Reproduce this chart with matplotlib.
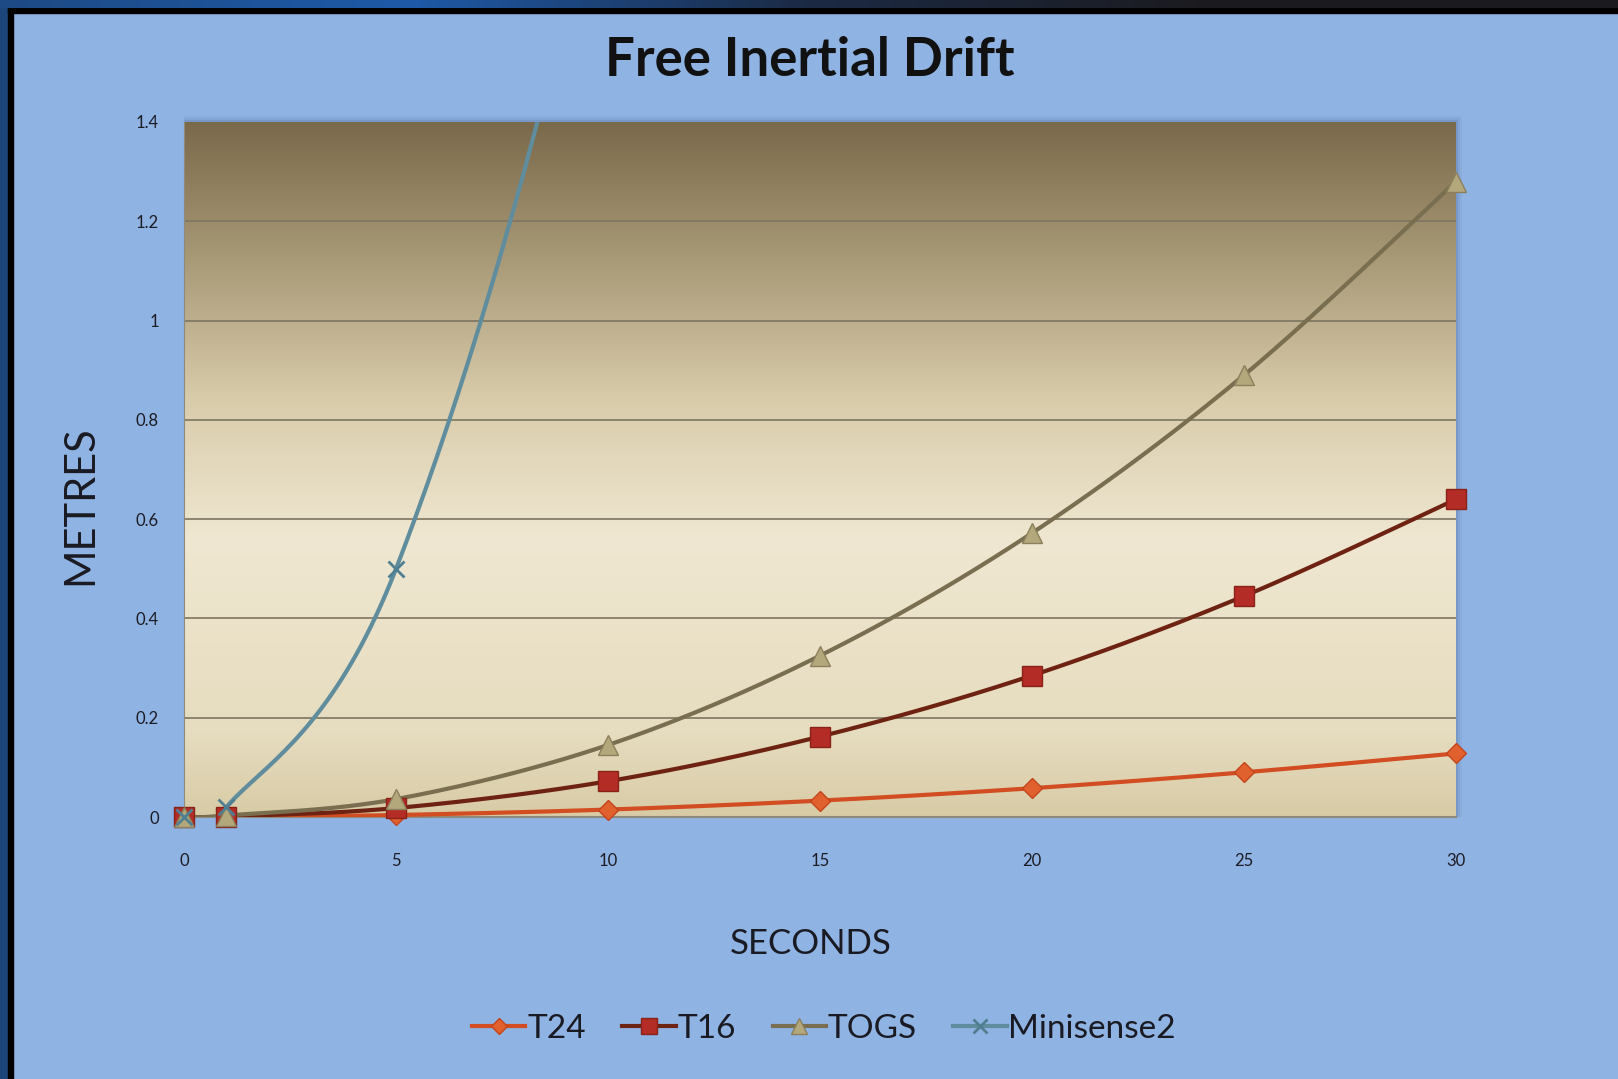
import numpy as np
import matplotlib
matplotlib.use('Agg')
import matplotlib.pyplot as plt
from matplotlib.colors import LinearSegmentedColormap
from matplotlib.lines import Line2D
from matplotlib.patches import Rectangle

# data (seconds -> metres)
seconds = [0, 1, 5, 10, 15, 20, 25, 30]
t24 = [0, 0.0, 0.004, 0.015, 0.033, 0.058, 0.09, 0.128]
t16 = [0, 0.001, 0.018, 0.072, 0.162, 0.285, 0.445, 0.64]
togs = [0, 0.003, 0.036, 0.145, 0.325, 0.572, 0.89, 1.28]
minisense2 = [0, 0.02, 0.5, 2.0, 4.5, 8.0, 12.5, 18.0]

series_names = ['T24', 'T16', 'TOGS', 'Minisense2']
x_ticks = [0, 5, 10, 15, 20, 25, 30]
y_ticks = [0, 0.2, 0.4, 0.6, 0.8, 1.0, 1.2, 1.4]
y_labels = ['0', '0.2', '0.4', '0.6', '0.8', '1', '1.2', '1.4']

FONT = 'Lato'
W, H = 1618, 1079


def smooth(x, y, n=40):
    # excel-style smoothed line: cubic bezier through the points
    x = np.asarray(x, float)
    y = np.asarray(y, float)
    px, py = [], []
    t = np.linspace(0, 1, n)
    for i in range(len(x) - 1):
        i0 = max(i - 1, 0)
        i3 = min(i + 2, len(x) - 1)
        c1x = x[i] + (x[i + 1] - x[i0]) / 6
        c1y = y[i] + (y[i + 1] - y[i0]) / 6
        c2x = x[i + 1] - (x[i3] - x[i]) / 6
        c2y = y[i + 1] - (y[i3] - y[i]) / 6
        bx = (1 - t)**3 * x[i] + 3 * (1 - t)**2 * t * c1x + 3 * (1 - t) * t**2 * c2x + t**3 * x[i + 1]
        by = (1 - t)**3 * y[i] + 3 * (1 - t)**2 * t * c1y + 3 * (1 - t) * t**2 * c2y + t**3 * y[i + 1]
        px.extend(bx)
        py.extend(by)
    return np.array(px), np.array(py)


fig = plt.figure(figsize=(W / 100, H / 100), dpi=100)
fig.patch.set_facecolor('#8fb3e3')

# frame of the slide
fig.patches.append(Rectangle((0, 0), 8 / W, 1, transform=fig.transFigure, color='#1c4679', zorder=-2))
fig.patches.append(Rectangle((8 / W, 0), 5 / W, 1 - 8 / H, transform=fig.transFigure, color='#000000', zorder=-2))
fig.patches.append(Rectangle((8 / W, 1 - 13 / H), 1, 5 / H, transform=fig.transFigure, color='#000000', zorder=-2))
top = fig.add_axes([0, 1 - 8 / H, 1, 8 / H])
top_cmap = LinearSegmentedColormap.from_list('top', ['#1d4a85', '#1e5aa8', '#1b2a44', '#1b1b1f', '#1b1b1f'])
top.imshow(np.linspace(0, 1, 300)[None, :], cmap=top_cmap, aspect='auto', extent=[0, 1, 0, 1])
top.axis('off')

left, right = 184 / W, 1456 / W
bottom, upper = 1 - 817 / H, 1 - 122 / H

# soft shadow behind the plot area
for k, a in enumerate([0.12, 0.08, 0.05]):
    d = (k + 1) * 2
    fig.patches.append(Rectangle((left, bottom), right - left + d / W, upper - bottom + d / H,
                                 transform=fig.transFigure, color='#2f4a70', alpha=a, lw=0, zorder=-1))

ax = fig.add_axes([left, bottom, right - left, upper - bottom])

bg = LinearSegmentedColormap.from_list('bg', [(0, '#d8cba6'), (0.12, '#e6dcbf'), (0.4, '#efe7d1'),
                                              (0.6, '#d9ccab'), (0.8, '#a99a78'), (1, '#7a694a')])
ax.imshow(np.linspace(0, 1, 256)[:, None], cmap=bg, origin='lower', aspect='auto',
          extent=[0, 30, 0, 1.4], zorder=0)

for yv in y_ticks[1:-1]:
    ax.axhline(yv, color='#7d7560', lw=1.2, zorder=1)

styles = [
    dict(line='#d24d22', marker='D', mfc='#e0612d', mec='#c4441c', ms=10),
    dict(line='#6e2212', marker='s', mfc='#b32d26', mec='#8a2218', ms=14),
    dict(line='#7a6e50', marker='^', mfc='#b3a77c', mec='#8c805c', ms=14),
    dict(line='#5f8d9e', marker='x', mfc='#4f7f90', mec='#4f7f90', ms=12),
]
all_data = [t24, t16, togs, minisense2]

handles = []
for name, vals, st in zip(series_names, all_data, styles):
    sx, sy = smooth(seconds, vals)
    ax.plot(sx, sy, color=st['line'], lw=3, zorder=3, solid_capstyle='round')
    vis = [(xv, yv) for xv, yv in zip(seconds, vals) if yv <= 1.4]
    ax.plot([v[0] for v in vis], [v[1] for v in vis], linestyle='none', marker=st['marker'],
            markerfacecolor=st['mfc'], markeredgecolor=st['mec'], markersize=st['ms'],
            markeredgewidth=2 if st['marker'] == 'x' else 1, zorder=4, clip_on=False)
    handles.append(Line2D([], [], color=st['line'], lw=3, marker=st['marker'],
                          markerfacecolor=st['mfc'], markeredgecolor=st['mec'],
                          markersize=st['ms'] * 0.8, markeredgewidth=2 if st['marker'] == 'x' else 1))

ax.set_xlim(0, 30)
ax.set_ylim(0, 1.4)
ax.set_xticks(x_ticks)
ax.set_xticklabels([str(v) for v in x_ticks])
ax.set_yticks(y_ticks)
ax.set_yticklabels(y_labels)
ax.tick_params(length=0, labelsize=12, colors='#1c1c24')
ax.tick_params(axis='x', pad=26)
ax.tick_params(axis='y', pad=18)
for lab in ax.get_xticklabels() + ax.get_yticklabels():
    lab.set_family(FONT)
for s in ['top', 'right']:
    ax.spines[s].set_visible(False)
ax.spines['left'].set_color('#8f8a7a')
ax.spines['bottom'].set_color('#8f8a7a')
ax.spines['bottom'].set_linewidth(1.5)

fig.text(810 / W, 1 - 60 / H, 'Free Inertial Drift', ha='center', va='center',
         fontsize=38, fontweight='bold', family=FONT, color='#111111')
fig.text(811 / W, 1 - 944 / H, 'SECONDS', ha='center', va='center',
         fontsize=25, family=FONT, color='#1a1a22')
fig.text(80 / W, 1 - 505 / H, 'METRES', ha='center', va='center', rotation=90,
         fontsize=30, family=FONT, color='#1a1a22')

fig.legend(handles, series_names, loc='center', bbox_to_anchor=(824 / W, 1 - 1029 / H), ncol=4,
           frameon=False, prop={'family': FONT, 'size': 24}, handlelength=1.6, handletextpad=0.05,
           columnspacing=1.1, labelcolor='#1a1a22')

fig.savefig('out.png', dpi=100, facecolor=fig.get_facecolor())
